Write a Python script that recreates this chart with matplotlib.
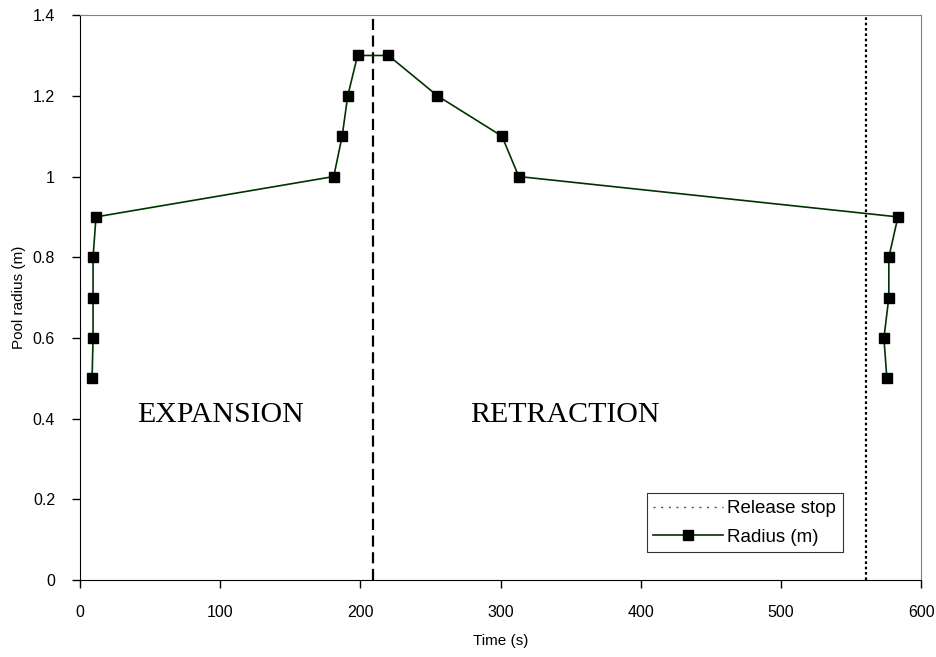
import matplotlib.pyplot as plt

# radius measurements: expansion phase, then retraction phase
time_s = [8.6, 9.3, 9.3, 9.3, 11.4, 181, 187, 191, 198,
          220, 255, 301, 313, 583.5, 577, 577, 573.5, 575.6]
radius_m = [0.5, 0.6, 0.7, 0.8, 0.9, 1.0, 1.1, 1.2, 1.3,
            1.3, 1.2, 1.1, 1.0, 0.9, 0.8, 0.7, 0.6, 0.5]

phase_change = 209
release_stop = 561

phase_labels = ["EXPANSION", "RETRACTION"]
phase_label_x = [100, 346]
phase_label_y = 0.41

plt.rcParams['font.family'] = ['Liberation Sans', 'DejaVu Sans']

fig = plt.figure(figsize=(9.37, 6.57), dpi=100)
ax = fig.add_axes([0.0854, 0.117, 0.8976, 0.86])

ax.axvline(phase_change, color='black', lw=1.6, ls=(0, (5, 2.5)), zorder=1)
stop, = ax.plot([release_stop, release_stop], [0, 1.4], color='black', lw=1.6,
                ls=(0, (1.2, 1.2)), label='Release stop', zorder=1)
rad, = ax.plot(time_s, radius_m, color='#003300', lw=1.2, marker='s', ms=6.5,
               mfc='black', mec='black', label='Radius (m)', zorder=3)

for txt, xx in zip(phase_labels, phase_label_x):
    ax.text(xx, phase_label_y, txt, ha='center', va='center', fontsize=21.5,
            family=['Liberation Serif', 'DejaVu Serif'])

ax.set_xlim(0, 600)
ax.set_ylim(0, 1.4)
ax.set_xticks(range(0, 601, 100))
ax.set_yticks([0, 0.2, 0.4, 0.6, 0.8, 1, 1.2, 1.4])
ax.set_yticklabels(['0', '0.2', '0.4', '0.6', '0.8', '1', '1.2', '1.4'])
ax.tick_params(direction='out', length=6, width=1, labelsize=11.5, colors='black')
ax.tick_params(axis='x', pad=12)
ax.tick_params(axis='y', pad=12)
ax.set_xlabel('Time (s)', fontsize=11, labelpad=10)
ax.set_ylabel('Pool radius (m)', fontsize=11, labelpad=5)

for side in ['top', 'right']:
    ax.spines[side].set_color('#808080')
for side in ['left', 'bottom']:
    ax.spines[side].set_color('black')

leg = ax.legend(handles=[stop, rad], loc='lower right', bbox_to_anchor=(0.907, 0.0496),
                fontsize=13.5, frameon=True, fancybox=False, borderpad=0.35,
                labelspacing=0.6, handlelength=3.7, handletextpad=0.25,
                borderaxespad=0)
leg.get_frame().set_edgecolor('black')
leg.get_frame().set_linewidth(0.8)
leg.get_lines()[0].set_color('#555555')
leg.get_lines()[0].set_linewidth(1.0)
leg.get_lines()[0].set_linestyle((0, (1.5, 4)))

fig.savefig('out.png', dpi=100)
